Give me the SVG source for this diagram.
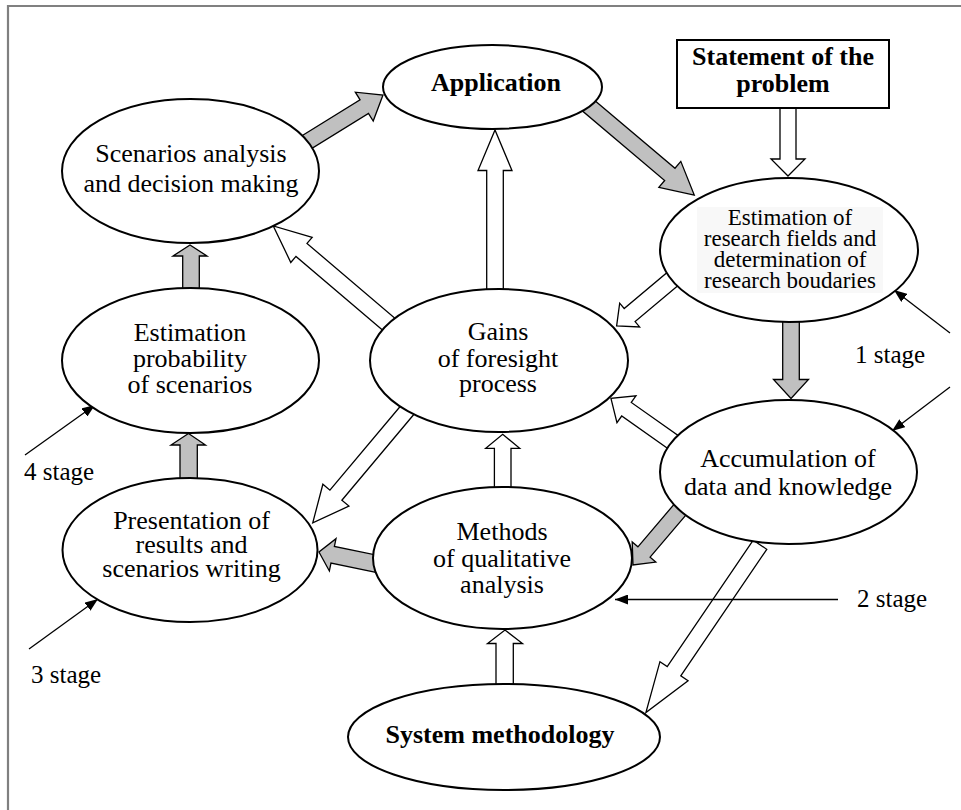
<svg xmlns="http://www.w3.org/2000/svg" width="961" height="810" viewBox="0 0 961 810" font-family="Liberation Serif, Times New Roman, DejaVu Serif, serif">
  <style>
    .node { fill: #ffffff; stroke: #000000; stroke-width: 2; }
    .lbl { font-size: 26px; fill: #000000; text-anchor: middle; }
    .bold { font-weight: bold; }
    .small { font-size: 23px; }
    .stage { font-size: 25px; fill: #000000; }
    .flow { fill: #c0c0c0; stroke: #000000; stroke-width: 1.3; stroke-linejoin: miter; }
    .link { fill: #ffffff; stroke: #000000; stroke-width: 1.3; stroke-linejoin: miter; }
    .pointer { fill: none; stroke: #000000; stroke-width: 1.3; marker-end: url(#tip); }
  </style>
  <defs>
    <marker id="tip" markerWidth="13" markerHeight="10" refX="13" refY="5" orient="auto" markerUnits="userSpaceOnUse">
      <path d="M0,0 L13,5 L0,10 z" fill="#000000"/>
    </marker>
  </defs>

  <rect x="0" y="0" width="961" height="810" fill="#ffffff"/>
  <!-- frame -->
  <path d="M8,810 V6 H961" fill="none" stroke="#808080" stroke-width="2.2"/>

  <g id="connectors">
    <!-- main cycle (grey block arrows) -->
    <polygon class="flow" transform="translate(290,152.5) rotate(-31.7)" points="0,-8 87.3,-8 87.3,-17 109.3,0 87.3,17 87.3,8 0,8"/>
    <polygon class="flow" transform="translate(570,90) rotate(40.2)" points="0,-8 130.7,-8 130.7,-17 162.7,0 130.7,17 130.7,8 0,8"/>
    <polygon class="flow" points="782.7,315 782.7,379.5 773.5,379.5 791,398.5 808.5,379.5 799.3,379.5 799.3,315"/>
    <polygon class="flow" transform="translate(684,505) rotate(130.4)" points="0,-8 61.7,-8 61.7,-15.5 78.7,0 61.7,15.5 61.7,8 0,8"/>
    <polygon class="flow" transform="translate(380,564.5) rotate(-168.4)" points="0,-8.5 48.3,-8.5 48.3,-16.5 62.3,0 48.3,16.5 48.3,8.5 0,8.5"/>
    <polygon class="flow" points="180,485 180,445 171,445 188.5,433.5 205.5,445 197.3,445 197.3,485"/>
    <polygon class="flow" points="182.7,295 182.7,256 173,256 190,245 207,256 199.3,256 199.3,295"/>

    <!-- supporting links (white block arrows) -->
    <polygon class="link" points="780,108 796,108 796,159 805,159 788,176 771,159 780,159"/>
    <polygon class="link" points="486.7,295 486.7,170.5 478,170.5 495,130 512,170.5 503.3,170.5 503.3,295"/>
    <polygon class="link" transform="translate(395,329.5) rotate(-139.6)" points="0,-8.5 122.8,-8.5 122.8,-16.5 159.8,0 122.8,16.5 122.8,8.5 0,8.5"/>
    <polygon class="link" transform="translate(675,277) rotate(140)" points="0,-8.5 59.2,-8.5 59.2,-15.5 76.2,0 59.2,15.5 59.2,8.5 0,8.5"/>
    <polygon class="link" transform="translate(680,447) rotate(-144.8)" points="0,-8.3 65.5,-8.3 65.5,-16.5 84.5,0 65.5,16.5 65.5,8.3 0,8.3"/>
    <polygon class="link" points="494.4,493 494.4,448.3 485.7,448.3 502.7,434.3 519.7,448.3 511,448.3 511,493"/>
    <polygon class="link" transform="translate(412,404.5) rotate(130)" points="0,-7.8 118.4,-7.8 118.4,-17 154.4,0 118.4,17 118.4,7.8 0,7.8"/>
    <polygon class="link" points="496,690 496,643.5 487.5,643.5 505,630 522.5,643.5 513.3,643.5 513.3,690"/>
    <polygon class="link" transform="translate(760,544.7) rotate(124.2)" points="0,-8.2 153,-8.2 153,-17 203,0 153,17 153,8.2 0,8.2"/>

    <!-- stage pointers -->
    <path class="pointer" d="M950,333 L894,290"/>
    <path class="pointer" d="M950,387 L892,431"/>
    <path class="pointer" d="M838,599.5 L615,599.5"/>
    <path class="pointer" d="M29,649 L98,599"/>
    <path class="pointer" d="M25,455 L95,405"/>
  </g>

  <g id="application">
    <ellipse class="node" cx="492.5" cy="87" rx="109.5" ry="42"/>
    <text class="lbl bold" x="496" y="91">Application</text>
  </g>

  <g id="statement">
    <rect x="677" y="40" width="212" height="68" fill="#ffffff" stroke="#000000" stroke-width="2"/>
    <text class="lbl bold" x="783" y="65">Statement of the</text>
    <text class="lbl bold" x="783" y="92">problem</text>
  </g>

  <g id="scenarios-analysis">
    <ellipse class="node" cx="190.5" cy="171" rx="128.5" ry="72"/>
    <text class="lbl" x="191" y="162">Scenarios analysis</text>
    <text class="lbl" x="191" y="192">and decision making</text>
  </g>

  <g id="research-fields">
    <ellipse class="node" cx="789" cy="250" rx="129" ry="72"/>
    <rect x="697" y="207" width="186" height="86" fill="#f8f8f8"/>
    <text class="lbl small" x="790" y="225">Estimation of</text>
    <text class="lbl small" x="790" y="246">research fields and</text>
    <text class="lbl small" x="790" y="267">determination of</text>
    <text class="lbl small" x="790" y="287.5">research boudaries</text>
  </g>

  <g id="estimation-probability">
    <ellipse class="node" cx="190.5" cy="360.5" rx="128.5" ry="72.5"/>
    <text class="lbl" x="190" y="341">Estimation</text>
    <text class="lbl" x="190" y="367">probability</text>
    <text class="lbl" x="190" y="393">of scenarios</text>
  </g>

  <g id="gains">
    <ellipse class="node" cx="499" cy="360.5" rx="129" ry="71.5"/>
    <text class="lbl" x="498" y="340">Gains</text>
    <text class="lbl" x="498" y="367">of foresight</text>
    <text class="lbl" x="498" y="392">process</text>
  </g>

  <g id="accumulation">
    <ellipse class="node" cx="788.5" cy="472" rx="128.5" ry="72"/>
    <text class="lbl" x="788" y="467">Accumulation of</text>
    <text class="lbl" x="788" y="495">data and knowledge</text>
  </g>

  <g id="presentation">
    <ellipse class="node" cx="190" cy="550" rx="127.5" ry="72"/>
    <text class="lbl" x="191.5" y="529">Presentation of</text>
    <text class="lbl" x="191.5" y="553">results and</text>
    <text class="lbl" x="191.5" y="577">scenarios writing</text>
  </g>

  <g id="methods">
    <ellipse class="node" cx="502.5" cy="558" rx="129.5" ry="71"/>
    <text class="lbl" x="502" y="540">Methods</text>
    <text class="lbl" x="502" y="567">of qualitative</text>
    <text class="lbl" x="502" y="593">analysis</text>
  </g>

  <g id="system-methodology">
    <ellipse class="node" cx="504" cy="737" rx="156" ry="53"/>
    <text class="lbl bold" x="500" y="743">System methodology</text>
  </g>

  <g id="stage-labels">
    <text class="stage" x="855" y="363">1 stage</text>
    <text class="stage" x="857" y="607">2 stage</text>
    <text class="stage" x="31" y="683">3 stage</text>
    <text class="stage" x="24" y="480">4 stage</text>
  </g>
</svg>
